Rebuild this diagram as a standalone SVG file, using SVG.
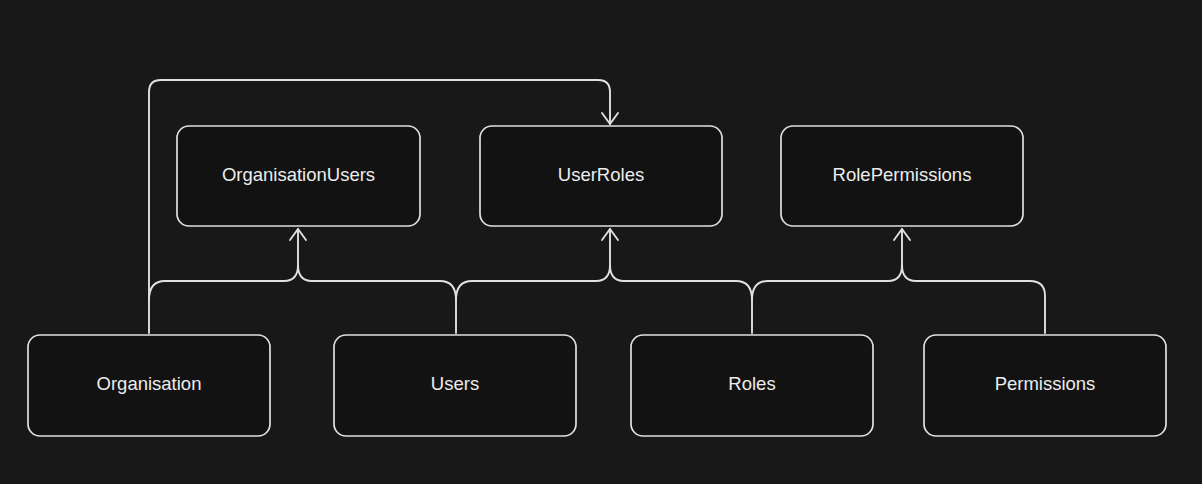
<svg xmlns="http://www.w3.org/2000/svg" width="1202" height="484" viewBox="0 0 1202 484">
  <style>
    .box { fill: #121212; stroke: #e0e0e0; stroke-width: 1.7; }
    .lbl { fill: #ececec; font-family: "Liberation Sans", Arial, sans-serif; font-size: 18.5px; text-anchor: middle; dominant-baseline: central; }
    .wire { fill: none; stroke: #e0e0e0; stroke-width: 1.9; stroke-linecap: round; stroke-linejoin: round; }
  </style>
  <defs>
    <!-- open chevron arrowhead, tip at the path end -->
    <marker id="arrow" viewBox="-14 -11 16 22" refX="0" refY="0" markerWidth="16" markerHeight="22" markerUnits="userSpaceOnUse" orient="auto" overflow="visible">
      <path d="M-11 -8 L0 0 L-11 8" fill="none" stroke="#e0e0e0" stroke-width="1.9" stroke-linecap="round" stroke-linejoin="round"/>
    </marker>
  </defs>
  <rect width="1202" height="484" fill="#181818"/>

  <g id="connectors">
    <!-- Organisation to UserRoles over the top -->
    <path class="wire" d="M149 333 V92 Q149 80 161 80 H598 Q610 80 610 92 V124" marker-end="url(#arrow)"/>
    <!-- Organisation + Users to OrganisationUsers -->
    <path class="wire" d="M149 300 Q149 281 165 281 H284 Q298 281 298 265 V229" marker-end="url(#arrow)"/>
    <path class="wire" d="M456 333 V300 Q456 281 440 281 H312 Q298 281 298 265"/>
    <!-- Users + Roles to UserRoles -->
    <path class="wire" d="M456 300 Q456 281 472 281 H596 Q610 281 610 265 V229" marker-end="url(#arrow)"/>
    <path class="wire" d="M752 333 V300 Q752 281 736 281 H624 Q610 281 610 265"/>
    <!-- Roles + Permissions to RolePermissions -->
    <path class="wire" d="M752 300 Q752 281 768 281 H888 Q902 281 902 265 V229" marker-end="url(#arrow)"/>
    <path class="wire" d="M1045 333 V296 Q1045 281 1030 281 H916 Q902 281 902 265"/>
  </g>

  <g id="organisation-users">
    <rect class="box" x="177" y="126" width="243" height="100" rx="12"/>
    <text class="lbl" x="298.5" y="174.5">OrganisationUsers</text>
  </g>
  <g id="user-roles">
    <rect class="box" x="480" y="126" width="242" height="100" rx="12"/>
    <text class="lbl" x="601" y="174.5">UserRoles</text>
  </g>
  <g id="role-permissions">
    <rect class="box" x="781" y="126" width="242" height="100" rx="12"/>
    <text class="lbl" x="902" y="174.5">RolePermissions</text>
  </g>
  <g id="organisation">
    <rect class="box" x="28" y="335" width="242" height="101" rx="12"/>
    <text class="lbl" x="149" y="383.5">Organisation</text>
  </g>
  <g id="users">
    <rect class="box" x="334" y="335" width="242" height="101" rx="12"/>
    <text class="lbl" x="455" y="383.5">Users</text>
  </g>
  <g id="roles">
    <rect class="box" x="631" y="335" width="242" height="101" rx="12"/>
    <text class="lbl" x="752" y="383.5">Roles</text>
  </g>
  <g id="permissions">
    <rect class="box" x="924" y="335" width="242" height="101" rx="12"/>
    <text class="lbl" x="1045" y="383.5">Permissions</text>
  </g>
</svg>
